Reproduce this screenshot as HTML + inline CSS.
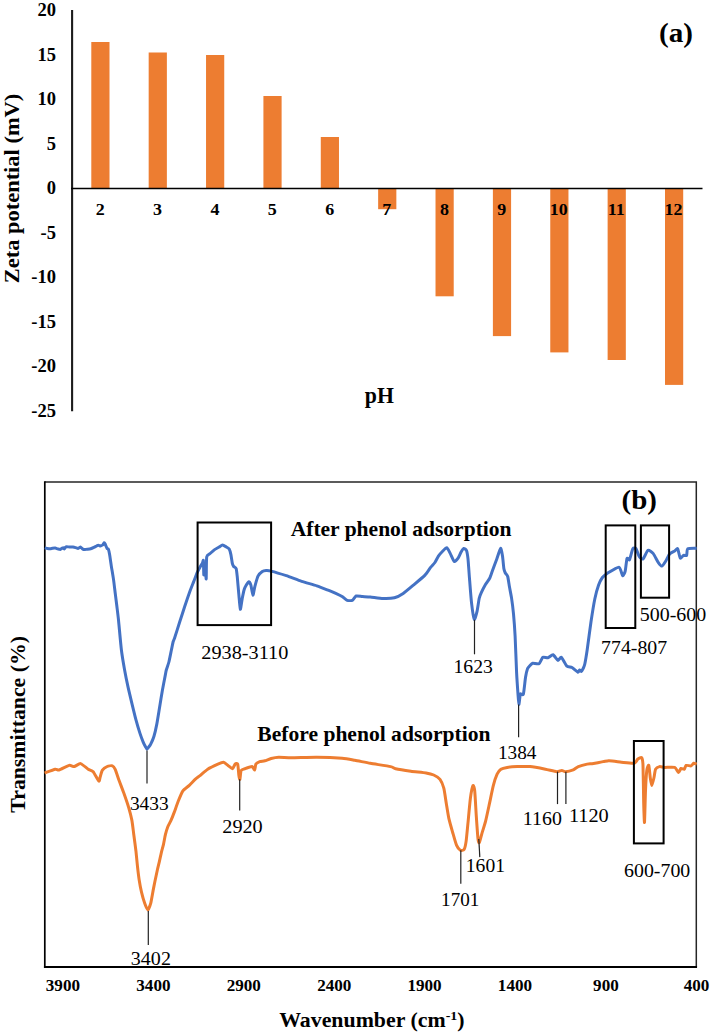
<!DOCTYPE html>
<html><head><meta charset="utf-8"><title>Figure</title>
<style>
html,body{margin:0;padding:0;background:#fff;}
svg{display:block;}
text{font-family:'Liberation Serif', 'Times New Roman', serif;fill:#000;}
.b{font-weight:bold;}
.r{font-weight:normal;}
</style></head><body>
<svg width="710" height="1035" viewBox="0 0 710 1035">
<rect width="710" height="1035" fill="#fff"/>
<line x1="72.1" y1="9.9" x2="72.1" y2="411.3" stroke="#1c1c1c" stroke-width="2.1"/>
<rect x="91.30" y="42" width="18.2" height="146.4" fill="#ED7D31"/>
<rect x="148.67" y="52.5" width="18.2" height="135.9" fill="#ED7D31"/>
<rect x="206.04" y="55" width="18.2" height="133.4" fill="#ED7D31"/>
<rect x="263.41" y="96" width="18.2" height="92.4" fill="#ED7D31"/>
<rect x="320.78" y="137" width="18.2" height="51.4" fill="#ED7D31"/>
<rect x="378.15" y="188.4" width="18.2" height="20.8" fill="#ED7D31"/>
<rect x="435.52" y="188.4" width="18.2" height="107.9" fill="#ED7D31"/>
<rect x="492.89" y="188.4" width="18.2" height="147.7" fill="#ED7D31"/>
<rect x="550.26" y="188.4" width="18.2" height="164.0" fill="#ED7D31"/>
<rect x="607.63" y="188.4" width="18.2" height="171.6" fill="#ED7D31"/>
<rect x="665.00" y="188.4" width="18.2" height="196.5" fill="#ED7D31"/>
<line x1="71.1" y1="188.4" x2="702.5" y2="188.4" stroke="#000" stroke-width="1.5"/>
<text transform="translate(37.46,16.2) scale(1.0300,1)" class="b" font-size="18">20</text>
<text transform="translate(37.46,60.7) scale(1.0300,1)" class="b" font-size="18">15</text>
<text transform="translate(37.46,105.2) scale(1.0300,1)" class="b" font-size="18">10</text>
<text transform="translate(46.73,149.7) scale(1.0300,1)" class="b" font-size="18">5</text>
<text transform="translate(46.73,194.2) scale(1.0300,1)" class="b" font-size="18">0</text>
<text transform="translate(40.56,238.7) scale(1.0300,1)" class="b" font-size="18">-5</text>
<text transform="translate(31.29,283.2) scale(1.0300,1)" class="b" font-size="18">-10</text>
<text transform="translate(31.29,327.7) scale(1.0300,1)" class="b" font-size="18">-15</text>
<text transform="translate(31.29,372.2) scale(1.0300,1)" class="b" font-size="18">-20</text>
<text transform="translate(31.29,416.7) scale(1.0300,1)" class="b" font-size="18">-25</text>
<text transform="translate(95.70,215.4) scale(1.0900,1)" class="b" font-size="16.5">2</text>
<text transform="translate(153.05,215.4) scale(1.0900,1)" class="b" font-size="16.5">3</text>
<text transform="translate(210.49,215.4) scale(1.0900,1)" class="b" font-size="16.5">4</text>
<text transform="translate(267.79,215.4) scale(1.0900,1)" class="b" font-size="16.5">5</text>
<text transform="translate(325.14,215.4) scale(1.0900,1)" class="b" font-size="16.5">6</text>
<text transform="translate(382.26,215.4) scale(1.0900,1)" class="b" font-size="16.5">7</text>
<text transform="translate(439.92,215.4) scale(1.0900,1)" class="b" font-size="16.5">8</text>
<text transform="translate(497.36,215.4) scale(1.0900,1)" class="b" font-size="16.5">9</text>
<text transform="translate(549.79,215.4) scale(1.0900,1)" class="b" font-size="16.5">10</text>
<text transform="translate(607.78,215.4) scale(1.0900,1)" class="b" font-size="16.5">11</text>
<text transform="translate(664.57,215.4) scale(1.0900,1)" class="b" font-size="16.5">12</text>
<text transform="translate(364.83,403.1) scale(0.9866,1)" class="b" font-size="22.1">pH</text>
<text transform="translate(659.09,41.6) scale(1.0955,1)" class="b" font-size="26.6">(a)</text>
<text transform="translate(18.9,283.27) rotate(-90) scale(1.0215,1)" class="b" font-size="22">Zeta potential (mV)</text>
<path d="M44.8,481.9 H696.3 V967.0" fill="none" stroke="#262626" stroke-width="1.5"/>
<line x1="44.8" y1="481.15" x2="44.8" y2="968.0" stroke="#000" stroke-width="1.7"/>
<line x1="43.949999999999996" y1="967.0" x2="697.05" y2="967.0" stroke="#000" stroke-width="2.1"/>
<path d="M44.8,547.7 C45.07,547.78 46.97,548.39 47.5,548.5 C48.03,548.61 49.59,548.82 50.1,548.8 C50.61,548.78 52.09,548.37 52.6,548.3 C53.11,548.23 54.68,548.04 55.2,548.1 C55.72,548.16 57.29,548.77 57.8,548.9 C58.31,549.03 59.86,549.47 60.3,549.4 C60.74,549.33 61.89,548.36 62.2,548.2 C62.51,548.04 63.20,547.72 63.4,547.8 C63.60,547.88 64.00,549.04 64.2,549 C64.40,548.96 65.16,547.63 65.4,547.4 C65.64,547.17 66.19,546.74 66.6,546.7 C67.01,546.66 68.86,546.96 69.5,547 C70.14,547.04 72.40,547.04 73,547.1 C73.60,547.16 75.00,547.47 75.5,547.6 C76.00,547.73 77.61,548.40 78,548.4 C78.39,548.40 79.14,547.73 79.4,547.6 C79.66,547.47 80.32,547.00 80.6,547.1 C80.88,547.20 81.89,548.35 82.2,548.6 C82.51,548.85 83.23,549.53 83.7,549.6 C84.17,549.67 86.20,549.38 86.9,549.3 C87.60,549.22 89.94,549.02 90.7,548.8 C91.46,548.58 93.92,547.38 94.5,547.1 C95.08,546.82 96.12,546.19 96.5,546 C96.88,545.81 97.99,545.21 98.3,545.2 C98.61,545.19 99.35,545.84 99.6,545.9 C99.85,545.96 100.49,545.89 100.8,545.8 C101.11,545.71 102.35,545.31 102.7,545 C103.05,544.69 104.05,542.80 104.3,542.7 C104.55,542.60 105.04,543.69 105.2,544 C105.36,544.31 105.70,545.34 105.9,545.8 C106.10,546.26 106.95,548.25 107.2,548.6 C107.45,548.95 108.16,548.70 108.4,549.3 C108.64,549.90 109.31,552.94 109.6,554.6 C109.89,556.26 110.91,563.42 111.3,565.9 C111.69,568.38 113.11,576.69 113.5,579.4 C113.89,582.11 114.86,590.29 115.2,593 C115.54,595.71 116.57,603.80 116.9,606.5 C117.23,609.20 118.05,615.65 118.5,620 C118.95,624.35 120.79,645.00 121.4,650 C122.01,655.00 123.94,666.31 124.6,670 C125.26,673.69 127.26,683.52 128,686.9 C128.74,690.28 131.21,700.53 132,703.8 C132.79,707.07 135.11,716.67 135.9,719.6 C136.69,722.53 139.17,730.85 139.9,733.1 C140.63,735.35 142.64,740.73 143.2,742.1 C143.76,743.47 145.12,746.09 145.5,746.8 C145.88,747.51 146.69,749.16 147,749.2 C147.31,749.24 148.24,747.68 148.6,747.2 C148.96,746.72 150.07,745.47 150.6,744.4 C151.13,743.33 153.28,738.53 153.9,736.5 C154.52,734.47 156.23,727.03 156.8,724.1 C157.37,721.17 159.04,710.58 159.6,707.2 C160.16,703.82 161.84,693.46 162.4,690.3 C162.96,687.14 164.81,677.63 165.2,675.6 C165.59,673.57 165.93,671.36 166.3,670 C166.67,668.64 168.39,664.00 168.9,662 C169.41,660.00 170.97,652.05 171.4,650 C171.83,647.95 172.88,642.70 173.2,641.5 C173.52,640.30 173.96,639.92 174.6,638 C175.24,636.08 178.59,625.45 179.6,622.3 C180.61,619.15 183.71,609.49 184.7,606.5 C185.69,603.51 188.60,594.89 189.5,592.4 C190.40,589.91 192.93,583.58 193.7,581.6 C194.47,579.62 196.52,574.14 197.2,572.6 C197.88,571.06 199.97,567.16 200.5,566.2 C201.03,565.24 202.21,563.56 202.5,563 C202.79,562.44 203.27,559.41 203.4,560.6 C203.53,561.79 203.68,574.46 203.8,574.9 C203.92,575.34 204.45,565.74 204.6,565 C204.75,564.26 205.14,566.11 205.3,567.5 C205.46,568.89 206.06,579.96 206.2,578.9 C206.34,577.84 206.31,559.44 206.7,556.9 C207.09,554.36 209.31,554.23 210.1,553.5 C210.89,552.77 213.70,550.25 214.6,549.6 C215.50,548.95 218.31,547.45 219.1,547 C219.89,546.55 221.77,545.10 222.5,545.1 C223.23,545.10 225.73,546.61 226.4,547 C227.07,547.39 228.75,548.24 229.2,549 C229.65,549.76 230.58,553.13 230.9,554.6 C231.22,556.07 232.12,562.51 232.4,563.7 C232.68,564.89 233.32,566.00 233.7,566.5 C234.08,567.00 235.84,567.63 236.2,568.7 C236.56,569.77 237.04,574.66 237.3,577.2 C237.56,579.74 238.50,590.89 238.8,594.1 C239.10,597.31 239.96,608.85 240.3,609.3 C240.64,609.75 241.81,600.58 242.2,598.6 C242.59,596.62 243.79,590.85 244.2,589.5 C244.61,588.15 245.84,585.87 246.3,585.1 C246.76,584.33 248.34,581.80 248.8,581.8 C249.26,581.80 250.49,583.76 250.9,585.1 C251.31,586.44 252.50,595.08 252.9,595.2 C253.30,595.32 254.39,588.20 254.9,586.3 C255.41,584.40 257.26,577.67 258,576.2 C258.74,574.73 261.49,572.16 262.3,571.6 C263.11,571.04 265.22,570.65 266.1,570.6 C266.98,570.55 269.08,570.59 271.1,571.1 C273.12,571.61 283.25,574.68 286.3,575.7 C289.35,576.72 298.55,580.29 301.6,581.3 C304.65,582.31 314.14,584.91 316.8,585.8 C319.46,586.69 326.30,589.44 328.2,590.2 C330.10,590.96 334.41,592.77 335.8,593.4 C337.19,594.03 340.96,595.81 342.1,596.5 C343.24,597.19 346.18,599.92 347.2,600.3 C348.22,600.68 351.41,600.73 352.3,600.3 C353.19,599.87 355.09,596.38 356.1,596 C357.11,595.62 360.98,596.40 362.4,596.5 C363.82,596.60 368.24,596.80 370.3,597 C372.36,597.20 380.59,598.42 383,598.5 C385.41,598.58 392.38,598.31 394.4,597.8 C396.42,597.29 401.30,594.67 403.2,593.4 C405.10,592.13 411.22,586.93 413.4,585.1 C415.58,583.27 423.28,576.87 425,575.1 C426.72,573.33 429.61,568.66 430.6,567.4 C431.59,566.14 434.12,563.63 434.9,562.5 C435.68,561.37 437.63,557.23 438.4,556.1 C439.17,554.97 441.76,552.04 442.6,551.2 C443.44,550.36 446.04,547.48 446.8,547.7 C447.56,547.92 449.45,552.02 450.2,553.4 C450.95,554.78 453.51,561.02 454.3,561.5 C455.09,561.98 457.42,559.15 458.1,558.2 C458.78,557.25 460.54,552.98 461.1,552 C461.66,551.02 463.16,548.55 463.7,548.4 C464.24,548.25 466.07,549.45 466.5,550.5 C466.93,551.55 467.71,556.22 468,558.9 C468.29,561.58 469.05,572.93 469.4,577.3 C469.75,581.67 471.01,598.39 471.5,602.6 C471.99,606.81 473.74,618.55 474.3,619.4 C474.86,620.25 476.61,613.20 477.1,611.1 C477.59,609.00 478.78,600.24 479.2,598.4 C479.62,596.56 480.66,594.11 481.3,592.7 C481.94,591.29 484.75,585.77 485.6,584.3 C486.45,582.83 489.10,579.41 489.8,578 C490.50,576.59 491.90,572.11 492.6,570.2 C493.30,568.29 496.00,561.08 496.8,558.9 C497.60,556.72 500.03,548.68 500.6,548.4 C501.17,548.12 502.17,554.06 502.5,556.1 C502.83,558.14 503.62,567.11 503.9,568.8 C504.18,570.49 504.92,572.23 505.3,573 C505.68,573.77 507.28,575.09 507.7,576.5 C508.12,577.91 509.11,584.91 509.5,587.1 C509.89,589.29 511.20,595.72 511.6,598.4 C512.00,601.08 513.15,610.14 513.5,613.9 C513.85,617.66 514.79,630.13 515.1,636 C515.41,641.87 516.32,666.92 516.6,672.6 C516.88,678.28 517.67,689.63 517.9,692.8 C518.13,695.97 518.65,704.17 518.9,704.3 C519.15,704.43 519.95,695.12 520.4,694.1 C520.85,693.08 522.89,695.75 523.4,694.1 C523.91,692.45 525.09,680.13 525.5,677.6 C525.91,675.07 527.05,670.01 527.5,668.8 C527.95,667.59 529.48,666.06 530,665.5 C530.52,664.94 531.80,663.38 532.7,663.2 C533.60,663.02 537.99,664.29 539,663.7 C540.01,663.11 541.91,657.89 542.8,657.3 C543.69,656.71 546.88,658.05 547.9,657.8 C548.92,657.55 551.99,654.54 553,654.8 C554.01,655.06 557.17,660.15 558,660.4 C558.83,660.65 560.41,656.72 561.3,657.3 C562.19,657.88 565.83,665.18 566.9,666.2 C567.97,667.22 570.89,666.90 572,667.5 C573.11,668.10 577.24,671.96 578,672.2 C578.76,672.44 579.28,669.98 579.6,669.9 C579.92,669.82 580.82,671.59 581.2,671.4 C581.58,671.21 583.04,668.74 583.4,668 C583.76,667.26 584.42,665.83 584.8,664 C585.18,662.17 586.58,653.92 587.2,649.7 C587.82,645.48 590.24,626.87 591,621.8 C591.76,616.73 594.04,602.67 594.8,599 C595.56,595.33 597.84,587.25 598.6,585.1 C599.36,582.95 601.51,578.69 602.4,577.5 C603.29,576.31 605.85,574.22 607.5,573.2 C609.15,572.18 617.38,567.05 618.9,567.3 C620.42,567.55 622.07,575.32 622.7,575.7 C623.33,576.08 624.77,572.82 625.2,571.1 C625.63,569.38 626.57,559.64 627,558.5 C627.43,557.36 628.92,560.67 629.5,559.7 C630.08,558.73 632.14,549.89 632.8,548.8 C633.46,547.71 635.46,548.04 636.1,548.8 C636.74,549.56 638.51,555.38 639.2,556.4 C639.89,557.42 642.12,559.61 643,559 C643.88,558.39 646.99,550.86 648,550.3 C649.01,549.74 652.08,552.20 653.1,553.4 C654.12,554.60 657.31,561.03 658.2,562.3 C659.09,563.57 661.24,566.23 662,566.1 C662.76,565.97 665.04,562.22 665.8,561 C666.56,559.78 668.71,554.91 669.6,553.9 C670.49,552.89 673.89,551.41 674.7,550.9 C675.51,550.39 677.15,548.09 677.7,548.8 C678.25,549.51 679.62,557.34 680.2,558 C680.78,558.66 682.86,555.66 683.5,555.4 C684.14,555.14 686.17,556.06 686.6,555.4 C687.03,554.74 686.79,549.51 687.8,548.8 C688.81,548.09 695.81,548.35 696.7,548.3" fill="none" stroke="#4472C4" stroke-width="3.0" stroke-linejoin="round" stroke-linecap="butt"/>
<path d="M44.6,773 C45.66,772.62 53.76,769.50 55.2,769.2 C56.64,768.90 57.60,770.38 59,770 C60.40,769.62 67.68,765.74 69.2,765.4 C70.72,765.06 73.06,766.78 74.2,766.6 C75.34,766.42 79.20,763.34 80.6,763.6 C82.00,763.86 86.94,768.39 88.2,769.2 C89.46,770.01 92.14,770.51 93.2,771.7 C94.26,772.89 98.09,780.62 98.8,781.1 C99.51,781.58 99.94,777.59 100.3,776.5 C100.66,775.41 101.71,771.20 102.4,770.2 C103.09,769.20 106.20,766.94 107.2,766.5 C108.20,766.06 111.60,765.51 112.4,765.8 C113.20,766.09 114.53,767.93 115.2,769.4 C115.87,770.87 118.23,778.11 119.1,780.5 C119.97,782.89 122.94,790.59 123.9,793.3 C124.86,796.01 127.90,804.89 128.7,807.6 C129.50,810.31 131.39,817.69 131.9,820.4 C132.41,823.11 133.40,831.67 133.8,834.7 C134.20,837.73 135.53,847.51 135.9,850.7 C136.27,853.89 137.18,863.73 137.5,866.6 C137.82,869.47 138.70,876.84 139.1,879.4 C139.50,881.96 140.94,889.81 141.5,892.2 C142.06,894.59 144.07,901.53 144.7,903.3 C145.33,905.07 147.20,909.90 147.8,909.9 C148.40,909.90 150.17,905.23 150.7,903.3 C151.23,901.37 152.67,892.83 153.1,890.6 C153.53,888.37 154.57,883.08 155,881 C155.43,878.92 156.97,871.71 157.4,869.8 C157.83,867.89 158.90,863.65 159.3,861.9 C159.70,860.15 160.98,854.06 161.4,852.3 C161.82,850.54 163.10,846.06 163.5,844.3 C163.90,842.54 164.97,836.45 165.4,834.7 C165.83,832.95 167.24,828.23 167.8,826.8 C168.36,825.37 170.36,821.84 171,820.4 C171.64,818.96 173.48,814.31 174.2,812.4 C174.92,810.49 177.33,803.45 178.2,801.3 C179.07,799.15 181.79,792.50 182.9,790.9 C184.01,789.30 188.02,786.50 189.3,785.3 C190.58,784.10 194.63,779.86 195.7,778.9 C196.77,777.94 198.80,776.67 200,775.7 C201.20,774.73 205.91,770.36 207.7,769.2 C209.49,768.04 216.32,764.79 217.9,764.1 C219.48,763.41 222.49,762.17 223.5,762.3 C224.51,762.43 227.09,764.76 228,765.4 C228.91,766.04 231.89,768.83 232.6,768.7 C233.31,768.57 234.59,764.56 235.1,764.1 C235.61,763.64 237.32,762.96 237.7,764.1 C238.08,765.24 238.68,773.98 238.9,775.5 C239.12,777.02 239.67,779.81 239.9,779.3 C240.13,778.79 240.61,771.49 241.2,770.4 C241.79,769.31 244.71,768.78 245.8,768.4 C246.89,768.02 251.21,766.45 252.1,766.6 C252.99,766.75 254.32,770.15 254.7,769.9 C255.08,769.65 255.40,764.93 255.9,764.1 C256.40,763.27 258.81,761.93 259.7,761.6 C260.59,761.27 263.66,761.11 264.8,760.8 C265.94,760.49 269.71,758.86 271.1,758.5 C272.49,758.14 276.67,757.28 278.7,757.2 C280.73,757.12 287.59,757.70 291.4,757.7 C295.21,757.70 311.73,757.14 316.8,757.2 C321.87,757.26 338.30,757.99 342.1,758.3 C345.90,758.61 351.98,759.80 354.8,760.3 C357.62,760.80 366.72,762.67 370.3,763.3 C373.88,763.93 388.07,766.06 390.6,766.6 C393.13,767.14 393.57,768.24 395.6,768.7 C397.63,769.16 407.85,770.77 410.9,771.2 C413.95,771.63 423.82,772.62 426.1,773 C428.38,773.38 432.31,774.37 433.7,775 C435.09,775.63 438.99,777.98 440,779.3 C441.01,780.62 443.17,785.79 443.8,788.2 C444.43,790.61 445.79,800.36 446.3,803.4 C446.81,806.44 448.26,815.69 448.9,818.6 C449.54,821.51 451.94,829.84 452.7,832.5 C453.46,835.16 455.74,843.42 456.5,845.2 C457.26,846.98 459.54,849.87 460.3,850.3 C461.06,850.73 463.52,850.39 464.1,849.5 C464.68,848.61 465.72,843.98 466.1,841.4 C466.48,838.82 467.47,828.01 467.9,823.7 C468.33,819.39 469.89,802.11 470.4,798.3 C470.91,794.49 472.57,786.36 473,785.6 C473.43,784.84 474.37,787.65 474.7,790.7 C475.03,793.75 475.97,811.28 476.3,816.1 C476.63,820.92 477.70,836.24 478,838.9 C478.30,841.56 478.92,843.21 479.3,842.7 C479.68,842.19 481.17,835.96 481.8,833.8 C482.43,831.64 484.83,824.14 485.6,821.1 C486.37,818.06 488.73,806.95 489.5,803.4 C490.27,799.85 492.54,788.52 493.3,785.6 C494.06,782.68 496.34,775.84 497.1,774.2 C497.86,772.56 499.89,769.88 500.9,769.2 C501.91,768.52 505.56,767.66 507.2,767.4 C508.84,767.14 515.01,766.68 517.3,766.6 C519.59,766.52 527.29,766.34 530.1,766.6 C532.91,766.86 542.73,768.69 545.4,769.2 C548.07,769.71 555.16,771.58 556.8,771.7 C558.44,771.82 560.92,770.40 561.8,770.4 C562.68,770.40 564.46,771.75 565.6,771.7 C566.74,771.65 571.93,770.41 573.2,769.9 C574.47,769.39 576.90,767.18 578.3,766.6 C579.70,766.02 585.68,764.40 587.2,764.1 C588.72,763.80 591.35,763.93 593.5,763.6 C595.65,763.27 605.91,760.93 608.7,760.8 C611.49,760.67 618.86,762.05 621.4,762.3 C623.94,762.55 632.45,763.63 634.1,763.3 C635.75,762.97 637.14,759.56 637.9,759 C638.66,758.44 641.19,757.06 641.7,757.7 C642.21,758.34 642.80,760.83 643,765.4 C643.20,769.97 643.55,797.70 643.7,803.4 C643.85,809.10 644.32,823.67 644.5,822.4 C644.68,821.13 645.27,795.90 645.5,790.7 C645.73,785.50 646.47,772.93 646.8,770.4 C647.13,767.87 648.45,764.64 648.8,765.4 C649.15,766.16 650.00,775.98 650.3,778 C650.60,780.02 651.44,785.60 651.8,785.6 C652.16,785.60 653.52,779.64 653.9,778 C654.28,776.36 655.04,770.34 655.6,769.2 C656.16,768.06 658.61,766.78 659.5,766.6 C660.39,766.42 662.98,767.32 664.5,767.4 C666.02,767.48 673.30,766.89 674.7,767.4 C676.10,767.91 677.87,772.40 678.5,772.5 C679.13,772.60 680.42,768.73 681,768.4 C681.58,768.07 683.79,769.50 684.3,769.2 C684.81,768.90 685.42,765.73 686.1,765.4 C686.78,765.07 690.34,766.11 691.1,765.9 C691.86,765.69 693.14,763.48 693.7,763.3 C694.26,763.12 696.40,764.02 696.7,764.1" fill="none" stroke="#ED7D31" stroke-width="3.0" stroke-linejoin="round" stroke-linecap="butt"/>
<rect x="197.6" y="522.5" width="73.5" height="102.6" fill="none" stroke="#000" stroke-width="2"/>
<rect x="605.7" y="525.4" width="29.6" height="102.6" fill="none" stroke="#000" stroke-width="2"/>
<rect x="640.9" y="525.4" width="28.2" height="72.3" fill="none" stroke="#000" stroke-width="2"/>
<rect x="633.9" y="741.0" width="29.7" height="102.4" fill="none" stroke="#000" stroke-width="2"/>
<line x1="147" y1="750.6" x2="147" y2="783.6" stroke="#222" stroke-width="1.2"/>
<line x1="148.3" y1="911" x2="148.3" y2="945" stroke="#222" stroke-width="1.2"/>
<line x1="474.5" y1="619.8" x2="474.5" y2="654.3" stroke="#222" stroke-width="1.2"/>
<line x1="518.6" y1="704.6" x2="518.6" y2="737.2" stroke="#222" stroke-width="1.2"/>
<line x1="239.7" y1="779.3" x2="239.7" y2="810.5" stroke="#222" stroke-width="1.2"/>
<line x1="460.8" y1="850.3" x2="460.8" y2="883.8" stroke="#222" stroke-width="1.2"/>
<line x1="478.8" y1="838.9" x2="479.8" y2="857.1" stroke="#222" stroke-width="1.2"/>
<line x1="557.5" y1="771.7" x2="557.5" y2="804.1" stroke="#222" stroke-width="1.2"/>
<line x1="565.9" y1="771.7" x2="565.9" y2="804.1" stroke="#222" stroke-width="1.2"/>
<text transform="translate(129.88,809.7) scale(0.9824,1)" class="r" font-size="19.8">3433</text>
<text transform="translate(130.85,965) scale(1.0114,1)" class="r" font-size="19.8">3402</text>
<text transform="translate(201.29,658.6) scale(1.0239,1)" class="r" font-size="19.8">2938-3110</text>
<text transform="translate(453.48,672.6) scale(0.9926,1)" class="r" font-size="19.8">1623</text>
<text transform="translate(497.91,758.8) scale(0.9742,1)" class="r" font-size="19.8">1384</text>
<text transform="translate(222.29,832.5) scale(1.0220,1)" class="r" font-size="19.8">2920</text>
<text transform="translate(441.12,906.2) scale(0.9678,1)" class="r" font-size="19.8">1701</text>
<text transform="translate(465.79,872.0) scale(0.9897,1)" class="r" font-size="19.8">1601</text>
<text transform="translate(522.86,825.0) scale(1.0032,1)" class="r" font-size="19.8">1160</text>
<text transform="translate(568.92,822.2) scale(1.0252,1)" class="r" font-size="19.8">1120</text>
<text transform="translate(624.05,877.4) scale(1.0047,1)" class="r" font-size="19.8">600-700</text>
<text transform="translate(639.75,620.9) scale(1.0078,1)" class="r" font-size="19.8">500-600</text>
<text transform="translate(601.11,654.3) scale(1.0015,1)" class="r" font-size="19.8">774-807</text>
<text transform="translate(290.68,536.4) scale(1.0403,1)" class="b" font-size="20.7">After phenol adsorption</text>
<text transform="translate(257.32,740.6) scale(1.0430,1)" class="b" font-size="20.7">Before phenol adsorption</text>
<text transform="translate(621.60,508.5) scale(1.0897,1)" class="b" font-size="26.6">(b)</text>
<text transform="translate(24.9,812.63) rotate(-90) scale(0.9977,1)" class="b" font-size="21.8">Transmittance (%)</text>
<text transform="translate(45.80,991.4) scale(1.0300,1)" class="b" font-size="16.6">3900</text>
<text transform="translate(136.29,991.4) scale(1.0300,1)" class="b" font-size="16.6">3400</text>
<text transform="translate(226.73,991.4) scale(1.0300,1)" class="b" font-size="16.6">2900</text>
<text transform="translate(317.21,991.4) scale(1.0300,1)" class="b" font-size="16.6">2400</text>
<text transform="translate(407.38,991.4) scale(1.0300,1)" class="b" font-size="16.6">1900</text>
<text transform="translate(497.87,991.4) scale(1.0300,1)" class="b" font-size="16.6">1400</text>
<text transform="translate(593.08,991.4) scale(1.0300,1)" class="b" font-size="16.6">900</text>
<text transform="translate(683.69,991.4) scale(1.0300,1)" class="b" font-size="16.6">400</text>
<text transform="translate(279.17,1026.8) scale(1.0928,1)" class="b" font-size="20">Wavenumber (cm<tspan dy="-7" font-size="12.8">-1</tspan><tspan dy="7">)</tspan></text>
</svg>
</body></html>
